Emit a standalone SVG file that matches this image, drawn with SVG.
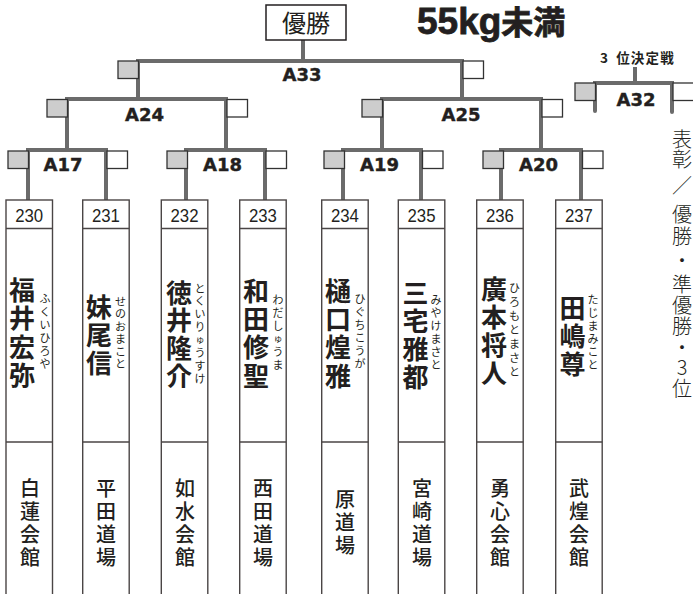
<svg xmlns="http://www.w3.org/2000/svg" width="693" height="594" viewBox="0 0 693 594">
<style>
.ln{fill:none;stroke:#6b6b6b;stroke-width:4;stroke-linejoin:miter}
.rl{fill:none;stroke:#6b6b6b;stroke-width:4;stroke-linecap:round}
.sg{fill:#cdcdcd;stroke:#333;stroke-width:1.3}
.sw{fill:#fff;stroke:#333;stroke-width:1.3}
.bx{fill:#fff;stroke:#4a4545;stroke-width:1.4}
.dv{stroke:#4a4545;stroke-width:1.4}
.lb{font-family:"DejaVu Sans",sans-serif;font-weight:bold;font-size:18px;fill:#231f20;stroke:#231f20;stroke-width:0.4;text-anchor:middle}
.no{font-family:"Liberation Sans",Arial,sans-serif;font-size:19px;fill:#231f20;text-anchor:middle}
.nm{font-family:"Noto Sans CJK JP",sans-serif;font-weight:bold;font-size:26px;fill:#231f20;text-anchor:middle;dominant-baseline:central}
.fr{font-family:"Noto Sans CJK JP",sans-serif;font-size:11px;fill:#231f20;text-anchor:middle;dominant-baseline:central}
.dj{font-family:"Noto Sans CJK JP",sans-serif;font-weight:500;font-size:20px;fill:#231f20;text-anchor:middle;dominant-baseline:central}
</style>
<rect width="693" height="594" fill="#fff"/>
<g id="connectors">
<path class="ln" d="M303 40V61"/>
<path class="ln" d="M138 99V61H462V99"/>
<path class="ln" d="M67 150V99H226V150"/>
<path class="ln" d="M382 150V99H541V150"/>
<path class="ln" d="M28 200V150H106V200"/>
<path class="ln" d="M186 200V150H265V200"/>
<path class="ln" d="M343 200V150H421V200"/>
<path class="ln" d="M501 200V150H581V200"/>
<path class="ln" d="M635 67V83"/>
<path class="rl" d="M595 111V83H672V112"/>
</g>
<g id="title"><text x="417" y="34" font-family="Liberation Sans,'Noto Sans CJK JP',sans-serif" font-weight="bold" font-size="37" fill="#231f20" stroke="#231f20" stroke-width="0.8">55kg<tspan font-family="'Noto Sans CJK JP',sans-serif" font-size="32">未満</tspan></text></g>
<g id="winner"><rect x="266" y="5" width="80" height="35" fill="#fff" stroke="#231f20" stroke-width="1.5"/><text x="306" y="31.5" font-family="'Noto Sans CJK JP',sans-serif" font-size="24" fill="#231f20" text-anchor="middle">優勝</text></g>
<g id="A33"><rect class="sg" x="118" y="61" width="20.5" height="17.5"/><rect class="sw" x="463" y="61" width="20.5" height="17.5"/><text class="lb" x="302" y="81">A33</text></g>
<g id="A24"><rect class="sg" x="47" y="99.5" width="20.5" height="17.5"/><rect class="sw" x="227" y="99.5" width="20.5" height="17.5"/><text class="lb" x="144.5" y="121">A24</text></g>
<g id="A25"><rect class="sg" x="362" y="99.5" width="20.5" height="17.5"/><rect class="sw" x="542" y="99.5" width="20.5" height="17.5"/><text class="lb" x="461" y="121">A25</text></g>
<g id="A17"><rect class="sg" x="8" y="151" width="20.5" height="17.5"/><rect class="sw" x="107" y="151" width="20.5" height="17.5"/><text class="lb" x="63" y="171">A17</text></g>
<g id="A18"><rect class="sg" x="167" y="151" width="20.5" height="17.5"/><rect class="sw" x="266" y="151" width="20.5" height="17.5"/><text class="lb" x="222.5" y="171">A18</text></g>
<g id="A19"><rect class="sg" x="324" y="151" width="20.5" height="17.5"/><rect class="sw" x="422.5" y="151" width="20.5" height="17.5"/><text class="lb" x="379.5" y="171">A19</text></g>
<g id="A20"><rect class="sg" x="483" y="151" width="20.5" height="17.5"/><rect class="sw" x="582.5" y="151" width="20.5" height="17.5"/><text class="lb" x="538.5" y="171">A20</text></g>
<g id="A32"><text x="600" y="62.5" font-family="'Noto Sans CJK JP',sans-serif" font-weight="bold" font-size="13.5" fill="#231f20" letter-spacing="1.2">3<tspan dx="7">位決定戦</tspan></text><rect class="sg" x="575" y="83" width="20.5" height="17.5"/><rect class="sw" x="673" y="83" width="22" height="17.5"/><text class="lb" x="636" y="106">A32</text></g>

<g id="e230"><rect class="bx" x="6" y="200" width="46.5" height="400"/><line class="dv" x1="6" y1="228.5" x2="52.5" y2="228.5"/><line class="dv" x1="6" y1="442" x2="52.5" y2="442"/><text class="no" x="29.2" y="221.5" textLength="28" lengthAdjust="spacingAndGlyphs">230</text>
<text class="nm" x="22"><tspan x="22" y="288">福</tspan><tspan x="22" y="316.3">井</tspan><tspan x="22" y="344.6">宏</tspan><tspan x="22" y="373">弥</tspan></text>
<text class="fr" x="45"><tspan x="45" y="298">ふ</tspan><tspan x="45" y="311">く</tspan><tspan x="45" y="324">い</tspan><tspan x="45" y="337">ひ</tspan><tspan x="45" y="350">ろ</tspan><tspan x="45" y="363">や</tspan></text>
<text class="dj" x="30"><tspan x="30" y="486.5">白</tspan><tspan x="30" y="509.5">蓮</tspan><tspan x="30" y="532.5">会</tspan><tspan x="30" y="555.5">館</tspan></text></g>

<g id="e231"><rect class="bx" x="82.7" y="200" width="46.5" height="400"/><line class="dv" x1="82.7" y1="228.5" x2="129.2" y2="228.5"/><line class="dv" x1="82.7" y1="442" x2="129.2" y2="442"/><text class="no" x="105.9" y="221.5" textLength="28" lengthAdjust="spacingAndGlyphs">231</text>
<text class="nm" x="99"><tspan x="99" y="304.5">妹</tspan><tspan x="99" y="332.5">尾</tspan><tspan x="99" y="360.5">信</tspan></text>
<text class="fr" x="120.5"><tspan x="120.5" y="300.5">せ</tspan><tspan x="120.5" y="313">の</tspan><tspan x="120.5" y="325.5">お</tspan><tspan x="120.5" y="338">ま</tspan><tspan x="120.5" y="350.5">こ</tspan><tspan x="120.5" y="363">と</tspan></text>
<text class="dj" x="106"><tspan x="106" y="486.5">平</tspan><tspan x="106" y="509.5">田</tspan><tspan x="106" y="532.5">道</tspan><tspan x="106" y="555.5">場</tspan></text></g>

<g id="e232"><rect class="bx" x="161.3" y="200" width="46.5" height="400"/><line class="dv" x1="161.3" y1="228.5" x2="207.8" y2="228.5"/><line class="dv" x1="161.3" y1="442" x2="207.8" y2="442"/><text class="no" x="184.5" y="221.5" textLength="28" lengthAdjust="spacingAndGlyphs">232</text>
<text class="nm" x="179"><tspan x="179" y="290.5">徳</tspan><tspan x="179" y="318.3">井</tspan><tspan x="179" y="346.1">隆</tspan><tspan x="179" y="374">介</tspan></text>
<text class="fr" x="200"><tspan x="200" y="287.5">と</tspan><tspan x="200" y="300.4">く</tspan><tspan x="200" y="313.2">い</tspan><tspan x="200" y="326">り</tspan><tspan x="200" y="339" font-size="9">ゅ</tspan><tspan x="200" y="351.8">う</tspan><tspan x="200" y="364.7">す</tspan><tspan x="200" y="377.5">け</tspan></text>
<text class="dj" x="185"><tspan x="185" y="486.5">如</tspan><tspan x="185" y="509.5">水</tspan><tspan x="185" y="532.5">会</tspan><tspan x="185" y="555.5">館</tspan></text></g>

<g id="e233"><rect class="bx" x="239.7" y="200" width="46.5" height="400"/><line class="dv" x1="239.7" y1="228.5" x2="286.2" y2="228.5"/><line class="dv" x1="239.7" y1="442" x2="286.2" y2="442"/><text class="no" x="262.9" y="221.5" textLength="28" lengthAdjust="spacingAndGlyphs">233</text>
<text class="nm" x="256"><tspan x="256" y="289">和</tspan><tspan x="256" y="317.2">田</tspan><tspan x="256" y="345.4">修</tspan><tspan x="256" y="373.6">聖</tspan></text>
<text class="fr" x="278"><tspan x="278" y="298.5">わ</tspan><tspan x="278" y="311.5">だ</tspan><tspan x="278" y="324.5">し</tspan><tspan x="278" y="337.5" font-size="9">ゅ</tspan><tspan x="278" y="350.5">う</tspan><tspan x="278" y="363.5">ま</tspan></text>
<text class="dj" x="263"><tspan x="263" y="486.5">西</tspan><tspan x="263" y="509.5">田</tspan><tspan x="263" y="532.5">道</tspan><tspan x="263" y="555.5">場</tspan></text></g>

<g id="e234"><rect class="bx" x="321.7" y="200" width="46.5" height="400"/><line class="dv" x1="321.7" y1="228.5" x2="368.2" y2="228.5"/><line class="dv" x1="321.7" y1="442" x2="368.2" y2="442"/><text class="no" x="344.9" y="221.5" textLength="28" lengthAdjust="spacingAndGlyphs">234</text>
<text class="nm" x="338"><tspan x="338" y="289">樋</tspan><tspan x="338" y="317.2">口</tspan><tspan x="338" y="345.4">煌</tspan><tspan x="338" y="373.6">雅</tspan></text>
<text class="fr" x="360"><tspan x="360" y="297.5">ひ</tspan><tspan x="360" y="310.5">ぐ</tspan><tspan x="360" y="323.5">ち</tspan><tspan x="360" y="336.5">こ</tspan><tspan x="360" y="349.5">う</tspan><tspan x="360" y="362.5">が</tspan></text>
<text class="dj" x="345"><tspan x="345" y="498">原</tspan><tspan x="345" y="521">道</tspan><tspan x="345" y="544">場</tspan></text></g>

<g id="e235"><rect class="bx" x="398.3" y="200" width="46.5" height="400"/><line class="dv" x1="398.3" y1="228.5" x2="444.8" y2="228.5"/><line class="dv" x1="398.3" y1="442" x2="444.8" y2="442"/><text class="no" x="421.5" y="221.5" textLength="28" lengthAdjust="spacingAndGlyphs">235</text>
<text class="nm" x="415.5"><tspan x="415.5" y="290.5">三</tspan><tspan x="415.5" y="318.7">宅</tspan><tspan x="415.5" y="346.9">雅</tspan><tspan x="415.5" y="375">都</tspan></text>
<text class="fr" x="436"><tspan x="436" y="298.5">み</tspan><tspan x="436" y="311.5">や</tspan><tspan x="436" y="324.5">け</tspan><tspan x="436" y="337.5">ま</tspan><tspan x="436" y="350.5">さ</tspan><tspan x="436" y="363.5">と</tspan></text>
<text class="dj" x="422"><tspan x="422" y="486.5">宮</tspan><tspan x="422" y="509.5">崎</tspan><tspan x="422" y="532.5">道</tspan><tspan x="422" y="555.5">場</tspan></text></g>

<g id="e236"><rect class="bx" x="476.7" y="200" width="46.5" height="400"/><line class="dv" x1="476.7" y1="228.5" x2="523.2" y2="228.5"/><line class="dv" x1="476.7" y1="442" x2="523.2" y2="442"/><text class="no" x="499.9" y="221.5" textLength="28" lengthAdjust="spacingAndGlyphs">236</text>
<text class="nm" x="494"><tspan x="494" y="287">廣</tspan><tspan x="494" y="315">本</tspan><tspan x="494" y="343">将</tspan><tspan x="494" y="370.5">人</tspan></text>
<text class="fr" x="514.5"><tspan x="514.5" y="286.5">ひ</tspan><tspan x="514.5" y="300.6">ろ</tspan><tspan x="514.5" y="314.7">も</tspan><tspan x="514.5" y="328.8">と</tspan><tspan x="514.5" y="342.9">ま</tspan><tspan x="514.5" y="357">さ</tspan><tspan x="514.5" y="371">と</tspan></text>
<text class="dj" x="500"><tspan x="500" y="486.5">勇</tspan><tspan x="500" y="509.5">心</tspan><tspan x="500" y="532.5">会</tspan><tspan x="500" y="555.5">館</tspan></text></g>

<g id="e237"><rect class="bx" x="555.7" y="200" width="46.5" height="400"/><line class="dv" x1="555.7" y1="228.5" x2="602.2" y2="228.5"/><line class="dv" x1="555.7" y1="442" x2="602.2" y2="442"/><text class="no" x="578.9" y="221.5" textLength="28" lengthAdjust="spacingAndGlyphs">237</text>
<text class="nm" x="572.5"><tspan x="572.5" y="306">田</tspan><tspan x="572.5" y="334">嶋</tspan><tspan x="572.5" y="362">尊</tspan></text>
<text class="fr" x="593"><tspan x="593" y="298.5">た</tspan><tspan x="593" y="311.5">じ</tspan><tspan x="593" y="324.5">ま</tspan><tspan x="593" y="337.5">み</tspan><tspan x="593" y="350.5">こ</tspan><tspan x="593" y="363.5">と</tspan></text>
<text class="dj" x="579"><tspan x="579" y="486.5">武</tspan><tspan x="579" y="509.5">煌</tspan><tspan x="579" y="532.5">会</tspan><tspan x="579" y="555.5">館</tspan></text></g>

<g id="award"><text font-family="'Noto Sans CJK JP',sans-serif" font-weight="300" font-size="20" fill="#231f20" text-anchor="middle" dominant-baseline="central"><tspan x="682" y="138">表</tspan><tspan x="682" y="158">彰</tspan><tspan x="682" y="184">／</tspan><tspan x="682" y="213">優</tspan><tspan x="682" y="235">勝</tspan><tspan x="682" y="259">・</tspan><tspan x="682" y="283">準</tspan><tspan x="682" y="304">優</tspan><tspan x="682" y="325">勝</tspan><tspan x="682" y="346">・</tspan><tspan x="682" y="366">3</tspan><tspan x="682" y="387">位</tspan></text></g>
</svg>
